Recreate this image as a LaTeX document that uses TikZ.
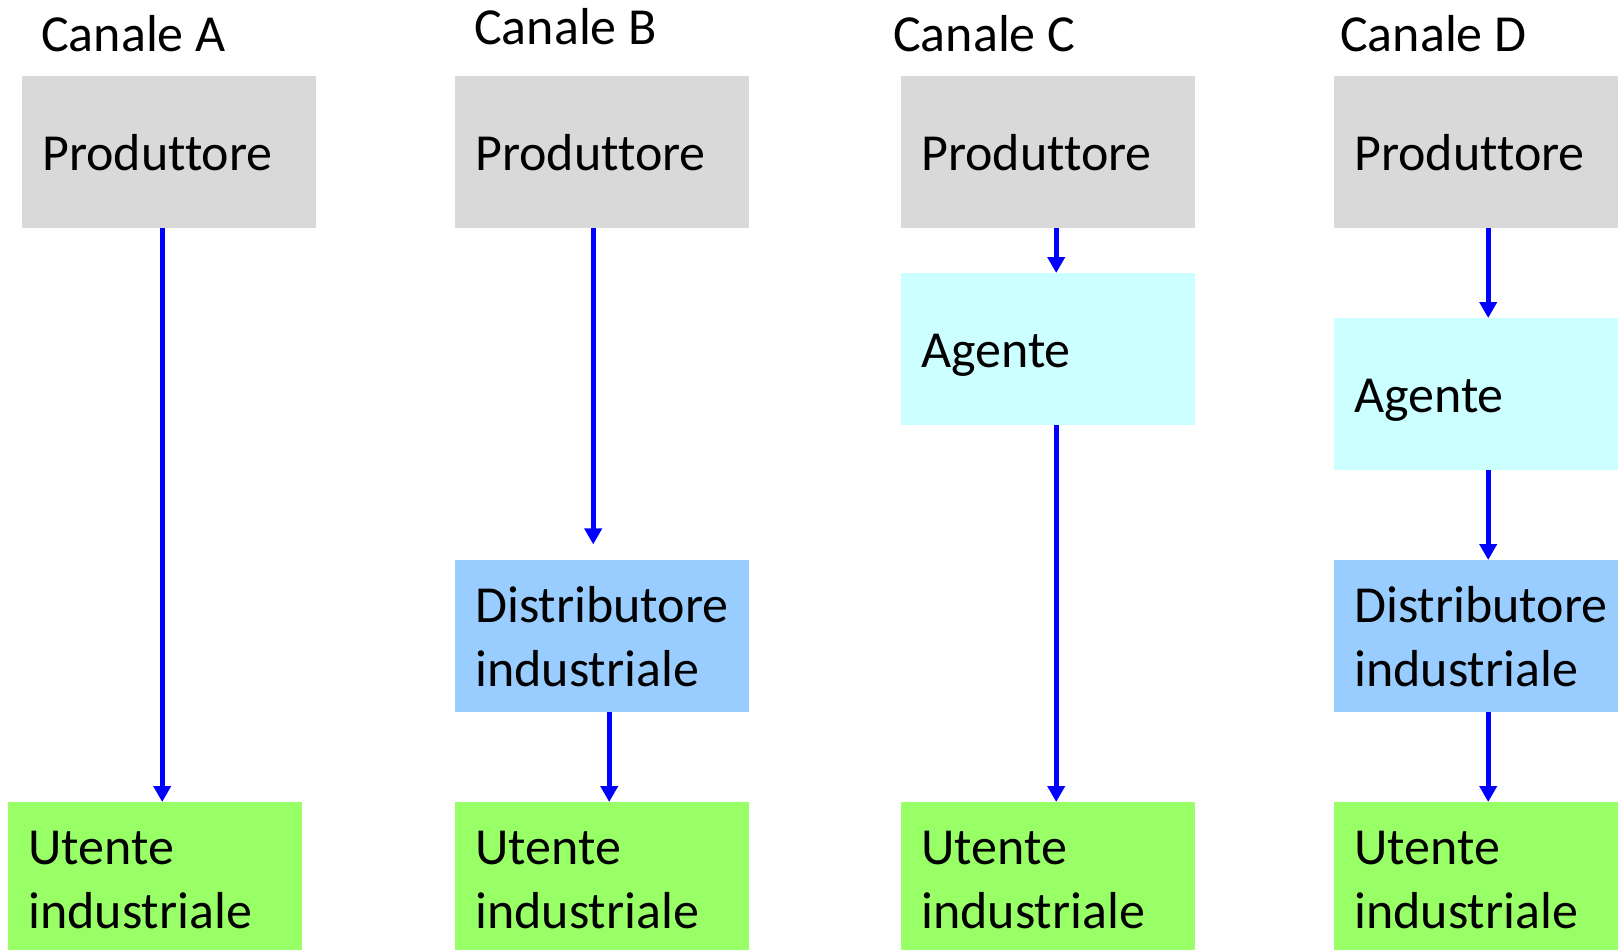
\documentclass[tikz,border=0pt]{standalone}
\usepackage{fontspec}
\setmainfont{Carlito}[Ligatures={NoCommon,NoRare,NoContextual}]
\usetikzlibrary{arrows.meta}
\definecolor{prodgray}{HTML}{D9D9D9}
\definecolor{agentcyan}{HTML}{CCFFFF}
\definecolor{distblue}{HTML}{99CCFF}
\definecolor{usergreen}{HTML}{99FF66}
\definecolor{flowblue}{HTML}{0000FF}
\tikzset{
  chbox/.style={rectangle, anchor=north west, minimum width=294pt, minimum height=152pt,
    inner sep=0pt, text width=254pt, align=left,
    font=\fontsize{52pt}{64pt}\selectfont},
  oneline/.style={chbox, text height=36pt, text depth=0pt},
  twoline/.style={chbox, text height=36pt, text depth=64pt},
  prod/.style={oneline, fill=prodgray},
  agent/.style={oneline, fill=agentcyan},
  dist/.style={twoline, fill=distblue},
  user/.style={twoline, fill=usergreen},
  title/.style={anchor=base west, inner sep=0pt, font=\fontsize{52pt}{64pt}\selectfont},
  flow/.style={draw=flowblue, line width=5pt, -{Triangle[length=16pt,width=17pt]}},
}
\begin{document}
\begin{tikzpicture}[x=1pt, y=-1pt]
\useasboundingbox (0,0) rectangle (1618,950);
\clip (0,0) rectangle (1618,950);

% channel headings
\node[title] (tA) at (41,52) {Canale A};
\node[title] (tB) at (474,45) {Canale B};
\node[title] (tC) at (893,52) {Canale C};
\node[title] (tD) at (1340,52) {Canale D};

% Canale A
\node[prod] (pA) at (22,76) {Produttore};
\node[user] (uA) at (8,802) {Utente\\industriale};

% Canale B
\node[prod] (pB) at (455,76) {Produttore};
\node[dist] (dB) at (455,560) {Distributore\\industriale};
\node[user] (uB) at (455,802) {Utente\\industriale};
\coordinate (eB) at ([xshift=-9pt, yshift=-316pt]pB.south);

% Canale C
\node[prod] (pC) at (901,76) {Produttore};
\node[agent] (aC) at (901,273) {Agente};
\node[user] (uC) at (901,802) {Utente\\industriale};

% Canale D
\node[prod] (pD) at (1334,76) {Produttore};
\node[agent] (aD) at (1334,318) {Agente};
\node[dist] (dD) at (1334,560) {Distributore\\industriale};
\node[user] (uD) at (1334,802) {Utente\\industriale};

% flows
\draw[flow] ([xshift=-7pt]pA.south) -- ([xshift=-7pt]pA.south |- uA.north);
\draw[flow] ([xshift=-9pt]pB.south) -- (eB);
\draw[flow] ([xshift=7pt]dB.south) -- ([xshift=7pt]uB.north);
\draw[flow] ([xshift=8pt]pC.south) -- ([xshift=8pt]aC.north);
\draw[flow] ([xshift=8pt]aC.south) -- ([xshift=8pt]uC.north);
\draw[flow] ([xshift=7pt]pD.south) -- ([xshift=7pt]aD.north);
\draw[flow] ([xshift=7pt]aD.south) -- ([xshift=7pt]dD.north);
\draw[flow] ([xshift=7pt]dD.south) -- ([xshift=7pt]uD.north);
\end{tikzpicture}
\end{document}
